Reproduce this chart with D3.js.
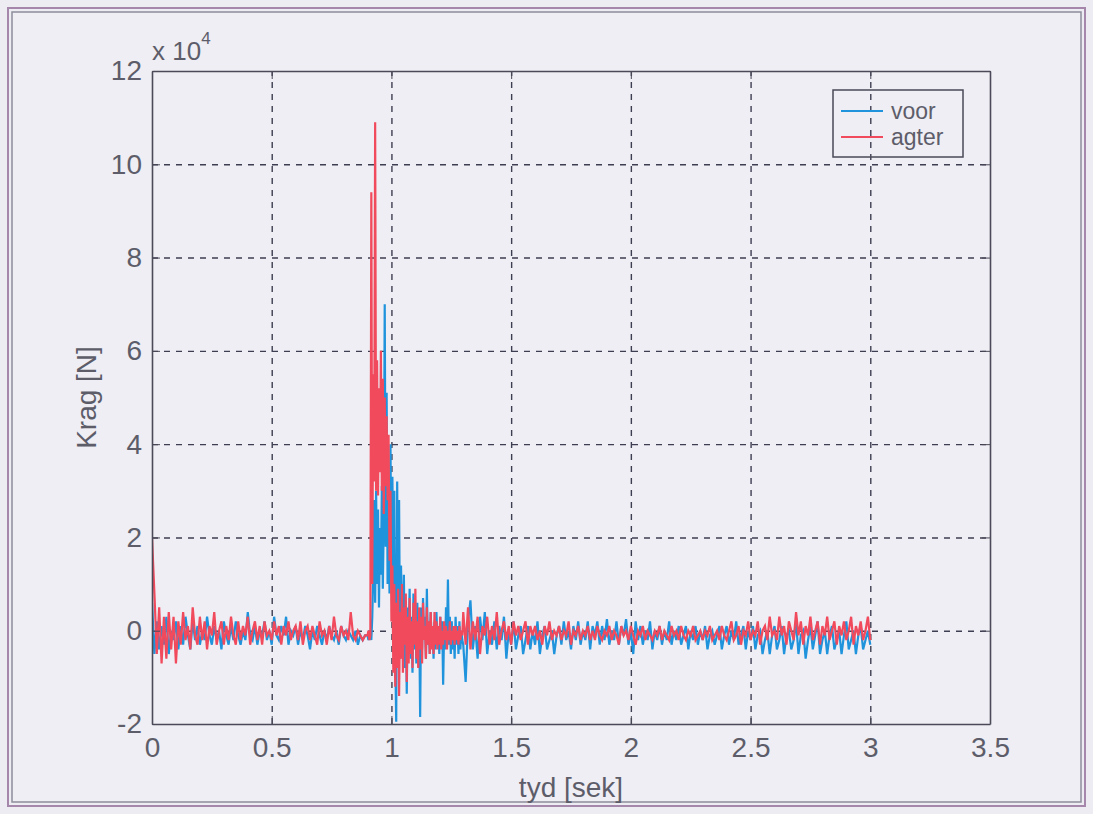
<!DOCTYPE html>
<html>
<head>
<meta charset="utf-8">
<script src="https://cdn.jsdelivr.net/npm/d3@7"></script>
<style>
  body { margin: 0; background: #edecf2; }
  svg { display: block; font-family: "Liberation Sans", Arial, sans-serif; }
  .tick text { font-size: 28px; fill: #5d5d6a; }
  .label { font-size: 28px; fill: #5d5d6a; }
</style>
</head>
<body>
<svg class="krag-chart"></svg>
<script>
// sample times come in three blocks: [start, step] (sek)
const segStarts = [0, 0.9, 1.3];
const segSteps = [0.01, 0.004, 0.01];

// force in units of 10^4 N
const voorA = [
  0.6, -0.5, 0.2, -0.4, 0.1, -0.3, 0.3, -0.5, 0.0, -0.2,
  0.2, -0.4, 0.1, -0.3, 0.3, -0.1, -0.4, 0.2, -0.2, 0.1,
  -0.3, 0.0, -0.2, 0.3, -0.1, -0.3, 0.1, -0.2, 0.0, -0.4,
  0.2, -0.1, -0.3, 0.1, -0.2, 0.2, -0.1, -0.3, 0.0, -0.2,
  0.4, -0.1, -0.2, 0.1, -0.3, 0.0, -0.1, 0.2, -0.2, 0.0,
  -0.3, 0.3, -0.1, -0.2, 0.1, -0.1, 0.3, -0.3, 0.0, -0.1,
  0.1, -0.3, 0.0, -0.2, 0.1, -0.1, -0.4, 0.0, -0.2, 0.1,
  -0.1, -0.3, 0.0, -0.2, 0.1, -0.1, -0.2, 0.0, -0.3, 0.1,
  -0.1, -0.2, 0.0, -0.1, -0.2, 0.0, -0.3, -0.1, -0.2, -0.1
];
const voorB = [
  -0.1, -0.2, 0.0, -0.1, -0.2, 0.3, 1.2, 2.8, 0.6, 3.0,
  1.0, 2.6, 0.5, 2.2, 1.2, 3.1, 0.9, 2.4, 7.0, 1.8,
  5.1, 1.0, 3.0, 0.8, 4.0, 1.2, 3.3, 0.6, 3.0, -0.5,
  -1.95, 3.2, 0.0, 2.8, -0.6, 1.4, 0.2, -0.5, 1.2, -0.8,
  0.6, -1.35, 0.5, -0.2, 0.9, -0.6, 0.3, -0.9, 0.8, -0.4,
  0.4, -0.7, 0.6, -0.3, 0.2, -1.85, 0.5, -0.4, 0.7, -0.2,
  0.3, -0.6, 0.9, -0.3, 0.2, -0.5, 0.4, -0.3, 0.0, -0.6,
  0.2, -0.4, 0.4, -0.2, 0.1, -0.5, 0.3, -0.3, 0.2, -1.16,
  0.0, -0.4, 0.5, -0.2, 1.1, -0.3, 0.3, -0.5, 0.2, -0.4,
  0.0, -0.6, 0.3, -0.3, 0.1, -0.5, 0.2, -0.4, 0.0, -0.2
];
const voorC = [
  -0.3, -1.1, 0.2, 0.65, -0.4, 0.1, -0.6, 0.3, -0.2, 0.4,
  -0.5, 0.0, -0.3, 0.2, -0.4, 0.1, -0.2, 0.3, -0.6, 0.0,
  -0.3, 0.2, -0.4, -0.1, 0.1, -0.5, -0.2, 0.1, -0.4, 0.0,
  -0.3, 0.2, -0.5, -0.1, 0.1, -0.4, -0.2, 0.0, -0.5, -0.1,
  0.1, -0.3, 0.2, -0.2, 0.0, -0.4, 0.1, -0.2, 0.2, -0.3,
  0.0, -0.2, 0.2, -0.4, 0.1, -0.1, 0.2, -0.3, 0.1, -0.2,
  0.25, -0.3, 0.0, -0.2, 0.2, -0.3, 0.1, -0.1, 0.25, -0.3,
  0.0, -0.5, 0.2, -0.2, 0.1, -0.3, 0.0, -0.2, 0.2, -0.4,
  0.0, -0.2, 0.1, -0.3, 0.0, -0.2, 0.2, -0.3, 0.0, -0.2,
  0.1, -0.3, -0.1, 0.1, -0.4, 0.0, -0.2, 0.1, -0.3, 0.0,
  -0.2, 0.1, -0.4, -0.1, 0.0, -0.3, -0.1, 0.1, -0.4, -0.1,
  0.1, -0.3, 0.0, -0.2, 0.2, -0.3, -0.1, 0.1, -0.4, 0.0,
  -0.2, 0.1, -0.4, -0.1, 0.0, -0.5, -0.2, 0.0, -0.5, -0.1,
  0.1, -0.4, -0.2, 0.1, -0.5, -0.1, 0.0, -0.4, -0.2, 0.2,
  -0.5, -0.1, 0.0, -0.6, -0.2, 0.1, -0.4, -0.1, 0.2, -0.5,
  -0.2, 0.0, -0.5, -0.1, 0.1, -0.4, -0.2, 0.0, -0.5, -0.1,
  0.2, -0.4, -0.2, 0.0, -0.5, -0.1, 0.1, -0.4, -0.2, 0.0,
  -0.3
];

const agterA = [
  2.0, 0.8, -0.5, 0.5, -0.7, 0.3, -0.6, 0.4, -0.4, 0.3,
  -0.7, 0.2, -0.3, 0.4, -0.2, 0.1, -0.4, 0.5, -0.1, -0.3,
  0.3, -0.2, 0.2, -0.4, 0.1, -0.1, 0.4, -0.3, 0.0, 0.2,
  -0.3, 0.1, -0.2, 0.3, -0.1, -0.3, 0.2, -0.2, 0.1, -0.1,
  0.3, -0.3, 0.0, 0.2, -0.2, 0.1, -0.3, 0.2, -0.1, 0.0,
  -0.2, 0.2, -0.1, 0.1, -0.3, 0.1, -0.1, 0.2, -0.2, 0.0,
  0.1, -0.2, 0.2, -0.3, 0.0, 0.1, -0.2, 0.1, -0.1, -0.3,
  0.2, -0.1, 0.0, -0.3, 0.1, -0.2, 0.3, -0.1, -0.2, 0.1,
  -0.1, 0.0, -0.2, 0.4, -0.1, -0.2, 0.0, -0.1, -0.2, -0.1
];
const agterB = [
  -0.1, 0.0, -0.2, -0.1, 9.4, 1.0, 5.5, 3.2, 10.9, 3.0,
  5.8, 2.9, 5.2, 3.4, 6.0, 3.0, 5.4, 2.5, 5.0, 3.1,
  4.6, 2.8, 4.2, 1.5, 3.0, 0.2, 1.4, -0.9, 1.0, -1.2,
  0.6, -0.8, 0.9, -1.4, 0.4, -0.6, 1.0, -0.9, 0.5, -0.3,
  0.8, -1.1, 0.3, -0.7, 0.7, -0.5, 0.2, -0.8, 0.6, -0.3,
  0.9, -0.6, 0.2, -0.8, 0.5, -0.4, 0.3, -0.7, 0.6, -0.2,
  0.1, -0.6, 0.5, -0.3, 0.2, -0.5, 0.4, -0.4, 0.1, -0.5,
  0.4, -0.3, 0.2, -0.4, 0.1, -0.3, 0.3, -0.4, 0.0, -0.3,
  0.2, -0.2, 0.1, -0.4, 0.0, -0.2, 0.2, -0.3, 0.0, -0.2,
  0.1, -0.3, 0.1, -0.2, 0.0, -0.3, 0.1, -0.2, 0.0, -0.1
];
const agterC = [
  0.4, -0.3, 0.5, -0.4, 0.2, -0.2, 0.3, -0.5, 0.1, -0.1,
  0.3, -0.3, 0.1, -0.2, 0.4, -0.3, 0.0, 0.2, -0.2, 0.1,
  -0.3, 0.2, -0.1, 0.1, -0.2, 0.0, 0.2, -0.3, 0.1, -0.1,
  0.1, -0.2, 0.0, -0.3, 0.1, -0.1, 0.2, -0.2, 0.0, -0.1,
  0.1, -0.2, 0.0, -0.1, 0.2, -0.3, 0.0, -0.1, 0.1, -0.2,
  0.0, -0.1, 0.1, -0.2, 0.0, -0.2, 0.1, -0.1, -0.2, 0.0,
  -0.1, 0.1, -0.2, 0.0, -0.1, -0.3, 0.1, -0.1, 0.0, -0.2,
  0.1, -0.1, -0.3, 0.0, -0.1, 0.1, -0.2, 0.0, -0.1, -0.2,
  0.0, -0.1, 0.1, -0.2, 0.0, -0.1, -0.2, 0.1, -0.1, 0.0,
  -0.2, 0.1, -0.1, -0.2, 0.0, -0.1, 0.1, -0.2, -0.1, 0.0,
  -0.2, 0.0, -0.1, 0.1, -0.2, -0.1, 0.0, -0.2, 0.1, -0.1,
  -0.2, 0.0, 0.2, -0.2, -0.1, 0.1, -0.3, 0.0, -0.1, 0.2,
  -0.2, 0.0, -0.1, 0.2, -0.3, 0.0, 0.1, -0.2, 0.3, -0.1,
  0.0, -0.2, 0.3, -0.1, 0.1, -0.3, 0.2, 0.0, -0.2, 0.4,
  -0.1, 0.2, -0.3, 0.1, -0.1, 0.3, -0.2, 0.0, 0.2, -0.3,
  0.1, -0.1, 0.3, -0.2, 0.0, 0.2, -0.3, 0.1, -0.1, 0.2,
  -0.2, 0.0, 0.3, -0.3, 0.1, -0.1, 0.2, -0.2, 0.0, 0.3,
  -0.2
];

const xTicks = [0, 0.5, 1, 1.5, 2, 2.5, 3, 3.5];
const yTicks = [-2, 0, 2, 4, 6, 8, 10, 12];
const seriesNames = ['voor', 'agter'];
const seriesColors = ['#1f93dc', '#f04a5c'];

function toPoints(blocks) {
  return blocks.flatMap((vals, s) => vals.map((v, i) => ({ t: segStarts[s] + i * segSteps[s], v: v })));
}

const series = [toPoints([voorA, voorB, voorC]), toPoints([agterA, agterB, agterC])];

const W = 1093, H = 814;
const margin = { left: 152, top: 71, right: 103, bottom: 90 };
const width = W - margin.left - margin.right;
const height = H - margin.top - margin.bottom;

const svg = d3.select('svg.krag-chart')
  .attr('width', W)
  .attr('height', H);

// scanned page frame
svg.append('rect').attr('x', 8).attr('y', 8).attr('width', W - 16).attr('height', H - 16)
  .attr('fill', 'none').attr('stroke', '#a487aa').attr('stroke-width', 2);
svg.append('rect').attr('x', 12).attr('y', 12).attr('width', W - 24).attr('height', H - 24)
  .attr('fill', '#efeef4').attr('stroke', '#8d8d9c').attr('stroke-width', 1.5);

const g = svg.append('g').attr('transform', `translate(${margin.left},${margin.top})`);

const x = d3.scaleLinear().domain([0, 3.5]).range([0, width]);
const y = d3.scaleLinear().domain([-2, 12]).range([height, 0]);

// grid
g.append('g')
  .attr('class', 'grid')
  .attr('transform', `translate(0,${height})`)
  .call(d3.axisBottom(x).tickValues(xTicks.slice(1, -1)).tickSize(-height).tickFormat(''));
g.append('g')
  .attr('class', 'grid')
  .call(d3.axisLeft(y).tickValues(yTicks.slice(1, -1)).tickSize(-width).tickFormat(''));
g.selectAll('.grid .domain').remove();
g.selectAll('.grid line')
  .attr('stroke', '#3e3e52')
  .attr('stroke-width', 1.4)
  .attr('stroke-dasharray', '6,6');

// data
g.append('clipPath').attr('id', 'plot-clip')
  .append('rect').attr('width', width).attr('height', height);

const line = d3.line()
  .x(d => x(d.t))
  .y(d => y(d.v));

series.forEach((pts, i) => {
  g.append('path')
    .datum(pts)
    .attr('clip-path', 'url(#plot-clip)')
    .attr('fill', 'none')
    .attr('stroke', seriesColors[i])
    .attr('stroke-width', 2.2)
    .attr('stroke-linejoin', 'miter')
    .attr('d', line);
});

// axes (MATLAB style: full box, inward ticks)
const plain = d => String(d);
g.append('g').attr('transform', `translate(0,${height})`)
  .call(d3.axisBottom(x).tickValues(xTicks).tickSizeInner(-8).tickSizeOuter(0).tickPadding(13).tickFormat(plain));
const yAxis = g.append('g')
  .call(d3.axisLeft(y).tickValues(yTicks).tickSizeInner(-8).tickSizeOuter(0).tickPadding(8).tickFormat(plain));
g.append('g')
  .call(d3.axisTop(x).tickValues(xTicks).tickSizeInner(-8).tickSizeOuter(0).tickFormat(''));
g.append('g').attr('transform', `translate(${width},0)`)
  .call(d3.axisRight(y).tickValues(yTicks).tickSizeInner(-8).tickSizeOuter(0).tickFormat(''));

g.selectAll('.domain').attr('stroke', '#4a4a58').attr('stroke-width', 1.6);
g.selectAll('.tick line').filter(function () { return !this.closest('.grid'); }).attr('stroke', '#4a4a58');
yAxis.selectAll('.tick text').attr('dx', -2);

// exponent note
const expo = g.append('text').attr('class', 'label').attr('x', 0).attr('y', -11).style('font-size', '26px');
expo.append('tspan').text('x 10');
expo.append('tspan').attr('dy', -16).style('font-size', '17px').text('4');

// axis titles
g.append('text').attr('class', 'label')
  .attr('x', x(1.75)).attr('y', height + 73)
  .attr('text-anchor', 'middle')
  .text('tyd [sek]');
g.append('text').attr('class', 'label')
  .attr('transform', `translate(-56,${y(5)}) rotate(-90)`)
  .attr('text-anchor', 'middle')
  .text('Krag [N]');

// legend (no fill, the grid shows through in the original)
const legend = g.append('g').attr('transform', `translate(${width - 157},19)`);
legend.append('rect')
  .attr('width', 130).attr('height', 67)
  .attr('fill', 'none').attr('stroke', '#4a4a58').attr('stroke-width', 1.5);
seriesNames.forEach((name, i) => {
  const row = legend.append('g').attr('transform', `translate(0,${21 + i * 26})`);
  row.append('line').attr('x1', 8).attr('x2', 50)
    .attr('stroke', seriesColors[i]).attr('stroke-width', 2);
  row.append('text').attr('class', 'label')
    .attr('x', 58).attr('y', 8)
    .style('font-size', '23px')
    .text(name);
});
</script>
</body>
</html>
